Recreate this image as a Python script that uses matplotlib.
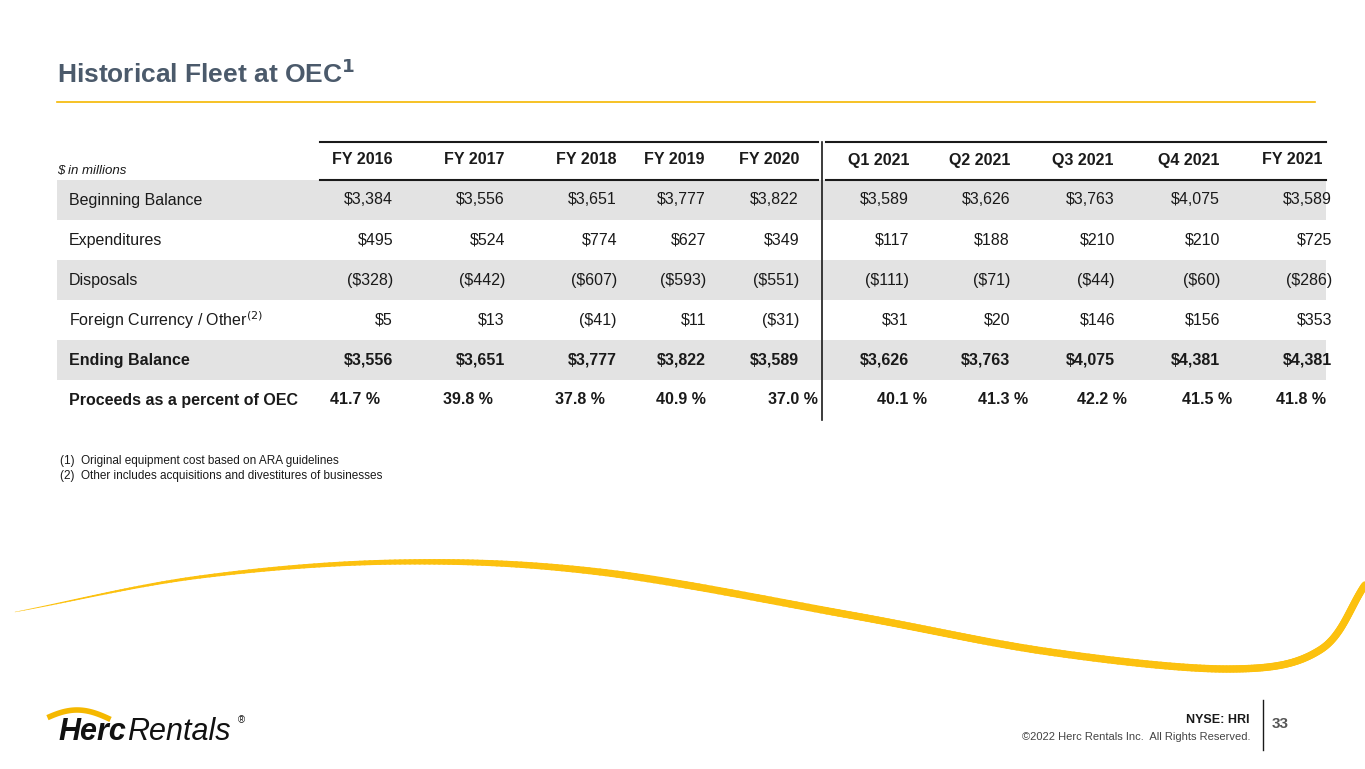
import matplotlib
matplotlib.use("Agg")
import numpy as np
import matplotlib.pyplot as plt
from matplotlib.collections import LineCollection

plt.rcParams["font.family"] = ["Liberation Sans", "DejaVu Sans"]
INK = "#1a1a1a"; TITLE = "#4b5a6b"; GOLD = "#f5b800"; GRAY = "#e3e3e3"

COLS = ["FY 2016", "FY 2017", "FY 2018", "FY 2019", "FY 2020",
        "Q1 2021", "Q2 2021", "Q3 2021", "Q4 2021", "FY 2021"]
LABELS = ["Beginning Balance", "Expenditures", "Disposals", "Foreign Currency / Other",
          "Ending Balance", "Proceeds as a percent of OEC"]
BEGIN = ["$3,384", "$3,556", "$3,651", "$3,777", "$3,822", "$3,589", "$3,626", "$3,763", "$4,075", "$3,589"]
EXPEND = ["$495", "$524", "$774", "$627", "$349", "$117", "$188", "$210", "$210", "$725"]
DISP = ["($328)", "($442)", "($607)", "($593)", "($551)", "($111)", "($71)", "($44)", "($60)", "($286)"]
FX = ["$5", "$13", "($41)", "$11", "($31)", "$31", "$20", "$146", "$156", "$353"]
ENDING = ["$3,556", "$3,651", "$3,777", "$3,822", "$3,589", "$3,626", "$3,763", "$4,075", "$4,381", "$4,381"]
PROCEEDS = ["41.7 %", "39.8 %", "37.8 %", "40.9 %", "37.0 %", "40.1 %", "41.3 %", "42.2 %", "41.5 %", "41.8 %"]
ROWS = [BEGIN, EXPEND, DISP, FX, ENDING, PROCEEDS]

COL_R = [393, 505, 617, 706, 799, 909, 1010, 1115, 1220, 1332]
HEAD_R = [393, 505, 617, 704, 799, 910, 1010, 1113, 1219, 1322]
PCT_R = [380, 493, 605, 706, 818, 927, 1028, 1127, 1232, 1326]

fig = plt.figure(figsize=(13.65, 7.69), dpi=100)
ax = fig.add_axes([0, 0, 1, 1])
ax.set_xlim(0, 1365); ax.set_ylim(769, 0); ax.axis("off")

# title
ax.text(57, 74, r"Historical Fleet at OEC$^{\mathbf{1}}$", fontsize=19, fontweight="bold", color=TITLE, va="center")
ax.plot([57, 1315], [102, 102], color=GOLD, lw=1.2)

# header
for xs in ([320, 818], [826, 1326]):
    ax.plot(xs, [142, 142], color=INK, lw=1.5)
    ax.plot(xs, [180, 180], color=INK, lw=1.5)
ax.text(57, 171, "$ in millions", fontsize=9.5, style="italic", color=INK, va="center")
for x, c in zip(HEAD_R, COLS):
    ax.text(x, 160, c, ha="right", va="center", fontsize=11.5, fontweight="bold", color=INK)

for i, (lab, vals) in enumerate(zip(LABELS, ROWS)):
    y0 = 180 + 40 * i
    if i % 2 == 0 and i < 5:
        ax.fill_between([57, 1326], y0, y0 + 40, color=GRAY, lw=0, zorder=0)
    bold = i >= 4
    yc = y0 + 20
    txt = lab + ("$^{(2)}$" if i == 3 else "")
    ax.text(69, yc, txt, va="center", fontsize=11.5, color=INK, fontweight="bold" if bold else "normal")
    xs = PCT_R if i == 5 else COL_R
    for x, v in zip(xs, vals):
        ax.text(x, yc, v, ha="right", va="center", fontsize=11.5, color=INK,
                fontweight="bold" if bold else "normal")
ax.plot([822, 822], [142, 420], color=INK, lw=1.2)

# footnotes
ax.text(60, 461, "(1)  Original equipment cost based on ARA guidelines", fontsize=8.5, color=INK, va="center")
ax.text(60, 476, "(2)  Other includes acquisitions and divestitures of businesses", fontsize=8.5, color=INK, va="center")

# decorative swoosh (Catmull-Rom through guide points)
P = np.array([[15, 612], [200, 577], [400, 562], [600, 572], [850, 615],
              [1050, 652], [1230, 669], [1320, 650], [1365, 585]], float)
P = np.vstack([2 * P[0] - P[1], P, 2 * P[-1] - P[-2]])
curve = []
for k in range(1, len(P) - 2):
    p0, p1, p2, p3 = P[k - 1], P[k], P[k + 1], P[k + 2]
    for s in np.linspace(0, 1, 40, endpoint=False):
        curve.append(0.5 * (2 * p1 + (-p0 + p2) * s + (2 * p0 - 5 * p1 + 4 * p2 - p3) * s ** 2
                            + (-p0 + 3 * p1 - 3 * p2 + p3) * s ** 3))
curve.append(P[-2])
curve = np.array(curve)
pts = curve.reshape(-1, 1, 2)
segs = np.concatenate([pts[:-1], pts[1:]], axis=1)
tt = np.linspace(0, 1, len(segs))
w = 0.3 + 5.0 * np.clip(tt / 0.4, 0, 1) ** 0.8
ax.add_collection(LineCollection(segs, linewidths=w, colors="#fcc10f", capstyle="round"))

# logo
arc_t = np.linspace(0, 1, 50)
ax.plot(50 + 58 * arc_t, 722 - 12 * np.sin(np.pi * (0.15 + 0.75 * arc_t)), color=GOLD, lw=4)
ax.text(58, 732, "Herc", fontsize=22, fontweight="bold", style="italic", color="#111111", va="center")
ax.text(127, 732, "Rentals", fontsize=22, style="italic", color="#111111", va="center")
ax.text(238, 720, "®", fontsize=7, color="#111111", va="center")

# footer
ax.text(1250, 720, "NYSE: HRI", fontsize=9, fontweight="bold", color=INK, ha="right", va="center")
ax.text(1250, 737, "©2022 Herc Rentals Inc.  All Rights Reserved.", fontsize=8, color="#444444", ha="right", va="center")
ax.plot([1263, 1263], [700, 750], color=INK, lw=1)
ax.text(1272, 724, "33", fontsize=11, fontweight="bold", color="#555555", va="center")

fig.savefig("out.png", dpi=100, facecolor="white")
